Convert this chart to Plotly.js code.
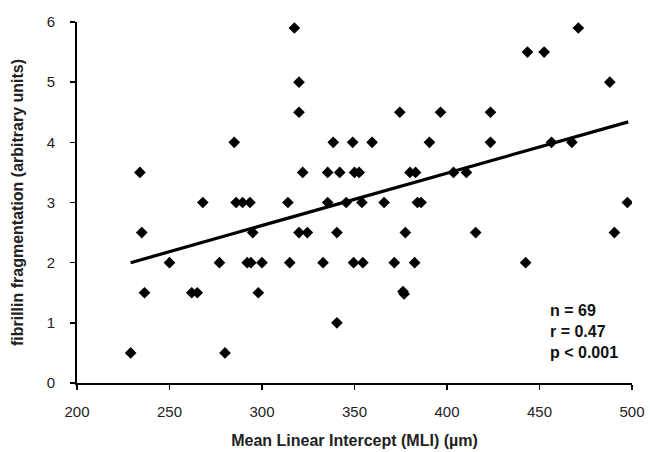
<!DOCTYPE html>
<html>
<head>
<meta charset="utf-8">
<script src="https://cdn.plot.ly/plotly-3.0.1.min.js"></script>
<style>html,body{margin:0;padding:0;background:#fff;}#chart{width:650px;height:452px;}</style>
</head>
<body>
<div id="chart"></div>
<script>
// Mean Linear Intercept (µm)
var mliValues = [
  229, 280,
  340.5,
  236.5, 262, 265, 298, 376.2, 376.8,
  250, 277, 292, 294, 300, 315, 333, 349.5, 354.5, 371.5, 382.5, 442.5,
  235, 295, 320, 324.5, 340.5, 377.5, 415.5, 490.5,
  268, 286, 289.5, 293.5, 314, 335.5, 345.5, 354, 366, 384, 386, 497.5,
  234, 322, 335.5, 342, 350, 352.5, 380, 383, 403.5, 410.5,
  285, 338.5, 349, 359.5, 390.5, 423.5, 456.5, 467.5,
  320, 374.5, 396.5, 423.5,
  320, 488,
  443.5, 452.5,
  317.5, 471
];
// fibrillin fragmentation (arbitrary units)
var fragValues = [
  0.5, 0.5,
  1,
  1.5, 1.5, 1.5, 1.5, 1.52, 1.48,
  2, 2, 2, 2, 2, 2, 2, 2, 2, 2, 2, 2,
  2.5, 2.5, 2.5, 2.5, 2.5, 2.5, 2.5, 2.5,
  3, 3, 3, 3, 3, 3, 3, 3, 3, 3, 3, 3,
  3.5, 3.5, 3.5, 3.5, 3.5, 3.5, 3.5, 3.5, 3.5, 3.5,
  4, 4, 4, 4, 4, 4, 4, 4,
  4.5, 4.5, 4.5, 4.5,
  5, 5,
  5.5, 5.5,
  5.9, 5.9
];
// regression line end points
var trendX = [229, 498];
var trendY = [2.0, 4.34];
var xTicks = [200, 250, 300, 350, 400, 450, 500];
var yTicks = [0, 1, 2, 3, 4, 5, 6];
var statsLines = ["n = 69", "r = 0.47", "p < 0.001"];

var traces = [
  {x: trendX, y: trendY, mode: 'lines', type: 'scatter',
   line: {color: '#000', width: 3.2}, hoverinfo: 'skip'},
  {x: mliValues, y: fragValues, mode: 'markers', type: 'scatter',
   marker: {symbol: 'diamond', size: 9, color: '#000'}}
];

var fontFam = '"Liberation Sans", Arial, sans-serif';
var layout = {
  width: 650, height: 452,
  margin: {l: 77, r: 18, t: 22, b: 69},
  paper_bgcolor: '#fff', plot_bgcolor: '#fff',
  showlegend: false,
  font: {family: fontFam, size: 15, color: '#222'},
  xaxis: {
    range: [200, 500], tickvals: xTicks, ticktext: xTicks.map(String),
    showgrid: false, zeroline: false, showline: true, linecolor: '#000', linewidth: 2,
    ticks: 'outside', ticklen: 5, tickwidth: 1.5, tickcolor: '#000',
    ticklabelstandoff: 9,
    title: {text: 'Mean Linear Intercept (MLI) (µm)', font: {family: fontFam, size: 16, color: '#222', weight: 'bold'}, standoff: 16}
  },
  yaxis: {
    range: [0, 6], tickvals: yTicks, ticktext: yTicks.map(String),
    showgrid: false, zeroline: false, showline: true, linecolor: '#000', linewidth: 2,
    ticks: 'outside', ticklen: 5, tickwidth: 1.5, tickcolor: '#000',
    ticklabelstandoff: 12,
    title: {text: 'fibrillin fragmentation (arbitrary units)', font: {family: fontFam, size: 16, color: '#222', weight: 'bold'}, standoff: 19}
  },
  annotations: [{
    x: 454.7, y: 0.86, xref: 'x', yref: 'y', xanchor: 'left', yanchor: 'middle', align: 'left',
    text: statsLines.join('<br>'), showarrow: false,
    font: {family: fontFam, size: 16, color: '#111', weight: 'bold'}
  }]
};
Plotly.newPlot('chart', traces, layout, {displayModeBar: false, staticPlot: true});
</script>
</body>
</html>
